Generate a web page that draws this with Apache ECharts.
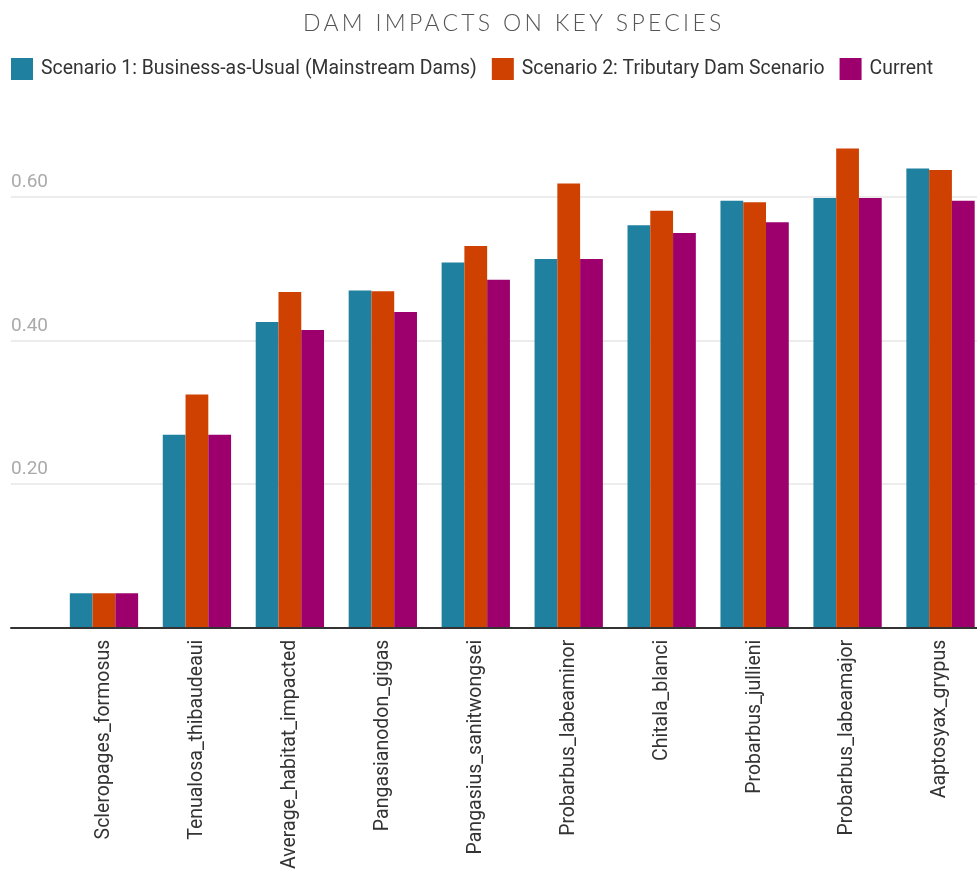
<!DOCTYPE html>
<html>
<head>
<meta charset="utf-8">
<script src="https://cdn.jsdelivr.net/npm/echarts@6/dist/echarts.min.js"></script>
<style>
html,body{margin:0;padding:0;background:#fff;}
#chart{width:977px;height:869px;}
</style>
</head>
<body>
<div id="chart"></div>
<script>
const titleText = 'DAM IMPACTS ON KEY SPECIES';
const categories = ['Scleropages_formosus','Tenualosa_thibaudeaui','Average_habitat_impacted','Pangasianodon_gigas','Pangasius_sanitwongsei','Probarbus_labeaminor','Chitala_blanci','Probarbus_jullieni','Probarbus_labeamajor','Aaptosyax_grypus'];
const seriesNames = ['Scenario 1: Business-as-Usual (Mainstream Dams)','Scenario 2: Tributary Dam Scenario','Current'];
const scenario1 = [0.048,0.269,0.426,0.470,0.509,0.514,0.561,0.595,0.599,0.640];
const scenario2 = [0.048,0.325,0.468,0.469,0.532,0.619,0.581,0.593,0.668,0.638];
const current   = [0.048,0.269,0.415,0.440,0.485,0.514,0.550,0.565,0.599,0.595];
const yMin = 0, yMax = 0.7, yStep = 0.2;
const colors = ['#1f80a0','#cf4100','#9d006c'];

// wide letter spacing for the title only (canvas letterSpacing, where supported)
(function () {
  const proto = CanvasRenderingContext2D.prototype;
  const orig = proto.fillText;
  proto.fillText = function (t) {
    if (t === titleText && 'letterSpacing' in this) {
      const prev = this.letterSpacing;
      this.letterSpacing = '3.3px';
      const r = orig.apply(this, arguments);
      this.letterSpacing = prev;
      return r;
    }
    return orig.apply(this, arguments);
  };
})();

const chart = echarts.init(document.getElementById('chart'), null, {renderer:'canvas'});
const allData = [scenario1, scenario2, current];
const option = {
  animation: false,
  backgroundColor: '#fff',
  title: {
    text: titleText, left: 298, top: 7,
    textStyle: {fontFamily: 'Lato', fontWeight: 300, fontSize: 23, color: '#555'}
  },
  legend: {
    data: seriesNames, left: 11, top: 58, padding: 0,
    itemWidth: 22, itemHeight: 22, itemGap: 15, icon: 'rect',
    textStyle: {fontFamily: 'Roboto', fontSize: 19.4, color: '#333', padding: [0,0,0,3]}
  },
  grid: [
    {left: 11, width: 976, top: 125.5, height: 502.2, containLabel: false, outerBoundsMode: 'none'},
    {left: 57.5, width: 929.5, top: 125.5, height: 502.2, containLabel: false, outerBoundsMode: 'none'}
  ],
  xAxis: [
    {gridIndex: 0, type: 'value', min: 0, max: 1, z: 5,
     axisLine: {show: true, lineStyle: {color: '#333', width: 2}},
     axisTick: {show: false}, axisLabel: {show: false}, splitLine: {show: false}},
    {gridIndex: 1, type: 'category', data: categories,
     axisLine: {show: false}, axisTick: {show: false},
     axisLabel: {rotate: 90, margin: 12, interval: 0, fontFamily: 'Roboto', fontSize: 19.5, color: '#333'}}
  ],
  yAxis: [
    {gridIndex: 0, type: 'value', min: yMin, max: yMax, interval: yStep,
     axisLine: {show: false}, axisTick: {show: false},
     axisLabel: {inside: true, margin: 0, verticalAlign: 'bottom', padding: [0,0,5,0],
       fontFamily: 'Roboto', fontSize: 19, color: '#aaa', showMinLabel: false, showMaxLabel: false,
       formatter: v => (v > 0 && Math.abs(v / yStep - Math.round(v / yStep)) < 1e-6) ? v.toFixed(2) : ''},
     splitLine: {show: true, showMinLine: false, showMaxLine: false, lineStyle: {color: '#e6e6e6', width: 1.5}}},
    {gridIndex: 1, type: 'value', min: yMin, max: yMax, show: false, splitLine: {show: false}}
  ],
  series: seriesNames.map((n, i) => ({
    name: n, type: 'bar', xAxisIndex: 1, yAxisIndex: 1,
    data: allData[i], barGap: '0%', barCategoryGap: '26.5%',
    itemStyle: {color: colors[i]}
  }))
};
chart.setOption(option);
</script>
</body>
</html>
